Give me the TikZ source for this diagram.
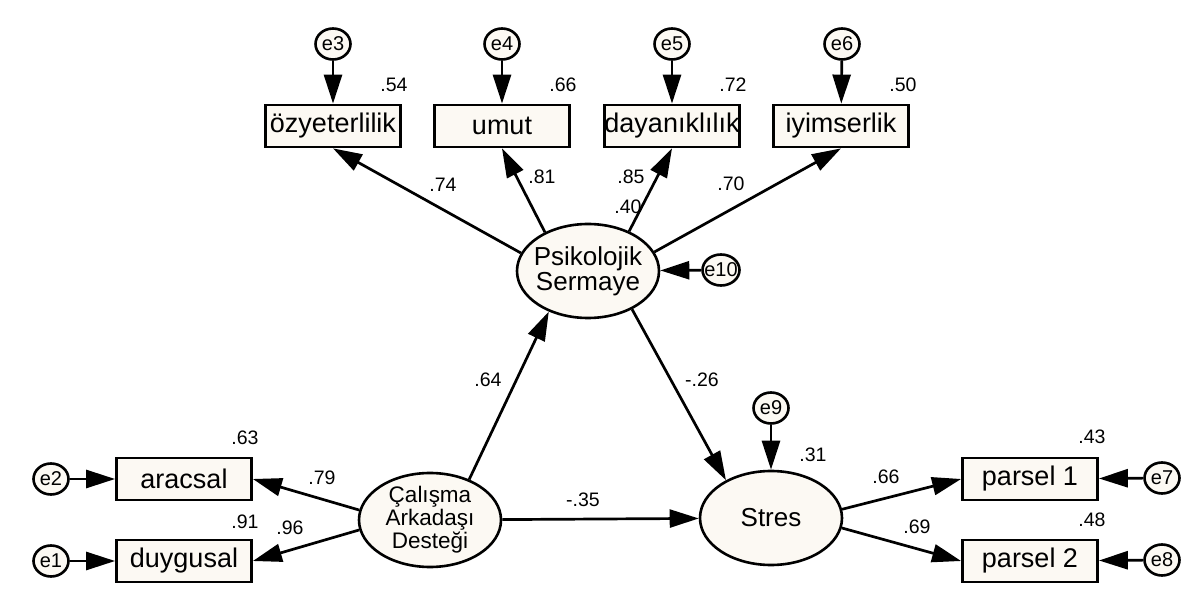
\documentclass[tikz,border=0pt]{standalone}
\usepackage{fontspec}
\setmainfont{Liberation Sans}
\usetikzlibrary{arrows.meta,shapes.geometric}

\definecolor{cream}{RGB}{252,249,243}

\tikzset{
	obs/.style={draw, line width=2.8pt, fill=cream, minimum width=135pt, minimum height=42pt, inner sep=0pt, font=\fontsize{27}{28}\selectfont},
	lat/.style={ellipse, draw, line width=2.6pt, fill=cream, minimum width=142pt, minimum height=94pt, inner sep=-6pt, align=center},
	err/.style={ellipse, draw, line width=2.6pt, fill=cream, minimum width=35pt, minimum height=31pt, inner sep=-4pt, font=\fontsize{20}{20}\selectfont},
	coef/.style={inner sep=0pt, font=\fontsize{19.5}{20}\selectfont},
	path/.style={line width=2.7pt, -{Triangle[length=29pt,width=18pt]}},
}

\begin{document}
\begin{tikzpicture}[x=1pt, y=-1pt]% {{{ yapisal model
	\useasboundingbox (0,0) rectangle (1184,609);

	% psikolojik sermaye ve gostergeleri
	\node[lat, font=\fontsize{26}{25}\selectfont] (ps) at (588,271) {Psikolojik\\Sermaye};
	\node[obs] (oz) at (333,126) {özyeterlilik};
	\node[obs] (umut) at (502,126) {umut};
	\node[obs] (day) at (672,126) {dayanıklılık};
	\node[obs] (iyi) at (841,126) {iyimserlik};
	\node[err] (e3) at (333,44) {e3};
	\node[err] (e4) at (502,44) {e4};
	\node[err] (e5) at (672,44) {e5};
	\node[err] (e6) at (842,44) {e6};
	\node[err, minimum width=37pt] (e10) at (721,270) {e10};

	% calisma arkadasi destegi
	\node[lat, font=\fontsize{22.5}{23}\selectfont] (cad) at (430,520) {Çalışma\\Arkadaşı\\Desteği};
	\node[obs] (ara) at (184,479) {aracsal};
	\node[obs] (duy) at (184,561) {duygusal};
	\node[err] (e2) at (51,479) {e2};
	\node[err] (e1) at (51,561) {e1};

	% stres
	\node[lat, font=\fontsize{26}{26}\selectfont] (stres) at (771,518) {Stres};
	\node[obs] (p1) at (1030,479) {parsel 1};
	\node[obs] (p2) at (1030,561) {parsel 2};
	\node[err] (e9) at (771,408) {e9};
	\node[err] (e7) at (1162,478) {e7};
	\node[err] (e8) at (1162,560) {e8};

	\foreach \e/\v in {e3/oz, e4/umut, e5/day, e6/iyi, e10/ps, e2/ara, e1/duy, e9/stres, e7/p1, e8/p2}
		\draw[path] (\e) -- (\v);

	\draw[path] (ps.165) -- (oz.south);
	\draw[path] (ps.138) -- (umut.south);
	\draw[path] (ps.44) -- (day.south);
	\draw[path] (ps.16) -- (iyi.south);
	\draw[path] (cad.172) -- (ara.east);
	\draw[path] (cad.188) -- (duy.east);
	\draw[path] (cad.46) -- (ps.226);
	\draw[path] (ps.-41) -- (stres.140);
	\draw[path] (cad) -- (stres);
	\draw[path] (stres.7) -- (p1.west);
	\draw[path] (stres.-8) -- (p2.west);

	% katsayilar
	\node[coef] (r54) at (394,85) {.54};
	\node[coef] (r66) at (563,85) {.66};
	\node[coef] (r72) at (733,85) {.72};
	\node[coef] (r50) at (903,85) {.50};
	\node[coef] (b74) at (443,185) {.74};
	\node[coef] (b81) at (542,177) {.81};
	\node[coef] (b85) at (631,177) {.85};
	\node[coef] (r40) at (628,207) {.40};
	\node[coef] (b70) at (731,184) {.70};
	\node[coef] (b64) at (488,380) {.64};
	\node[coef] (b26) at (702,380) {-.26};
	\node[coef] (b35) at (583,500) {-.35};
	\node[coef] (r31) at (813,455) {.31};
	\node[coef] (r63) at (245,438) {.63};
	\node[coef] (r91) at (245,522) {.91};
	\node[coef] (b79) at (322,478) {.79};
	\node[coef] (b96) at (290,528) {.96};
	\node[coef] (r43) at (1092,437) {.43};
	\node[coef] (r48) at (1092,520) {.48};
	\node[coef] (b66) at (886,477) {.66};
	\node[coef] (b69) at (917,527) {.69};
\end{tikzpicture}% }}}
\end{document}
